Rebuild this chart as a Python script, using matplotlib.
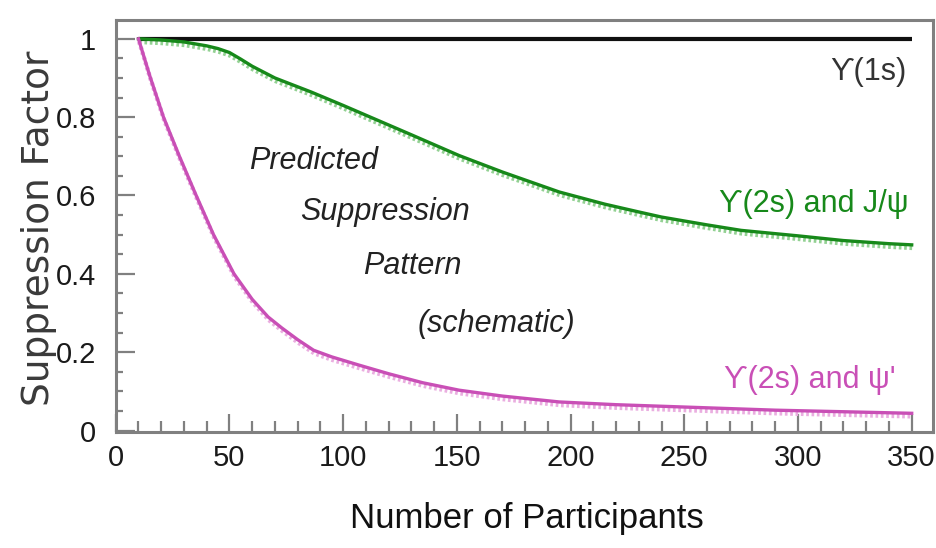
import matplotlib
matplotlib.use('Agg')
from matplotlib import pyplot as plt, transforms
from matplotlib.ticker import MultipleLocator

# participants vs. suppression factor
x_upsilon1s = [10, 350]
y_upsilon1s = [1.0, 1.0]

x_jpsi = [10, 20, 30, 40, 45, 50, 55, 60, 65, 70, 78, 86, 100, 112, 130,
          151, 170, 195, 215, 230, 240, 260, 275, 300, 320, 340, 350]
y_jpsi = [1.0, 0.997, 0.992, 0.982, 0.975, 0.965, 0.948, 0.93, 0.915, 0.900,
          0.882, 0.864, 0.830, 0.800, 0.755, 0.702, 0.66, 0.609, 0.578,
          0.558, 0.545, 0.525, 0.511, 0.497, 0.485, 0.477, 0.474]

x_psiprime = [10, 15, 21, 28, 35, 43, 52, 60, 67, 73, 80, 87, 95, 107, 120,
              135, 151, 170, 195, 220, 240, 265, 290, 320, 350]
y_psiprime = [1.0, 0.905, 0.80, 0.70, 0.605, 0.50, 0.40, 0.335, 0.29, 0.262,
              0.232, 0.205, 0.188, 0.167, 0.145, 0.122, 0.103, 0.088, 0.073,
              0.066, 0.062, 0.057, 0.052, 0.048, 0.044]

xticks = [0, 50, 100, 150, 200, 250, 300, 350]
yticks = [0, 0.2, 0.4, 0.6, 0.8, 1]
ytick_labels = ['0', '0.2', '0.4', '0.6', '0.8', '1']

GREEN = '#17891a'
GREEN_LIGHT = '#93d193'
MAGENTA = '#c94fb6'
MAGENTA_LIGHT = '#eaaee0'
GRAY = '#808080'
SANS = ['Liberation Sans', 'DejaVu Sans']

fig = plt.figure(figsize=(9.37, 5.48), dpi=100)
ax = fig.add_axes([0.1235, 0.2122, 0.8723, 0.7513])

# light dashed copy sits a couple of pixels under each coloured curve
shadow = transforms.offset_copy(ax.transData, fig=fig, x=0.5, y=-2.2, units='points')
ax.plot(x_jpsi, y_jpsi, color=GREEN_LIGHT, lw=3.2, ls=(0, (0.6, 0.6)), transform=shadow)
ax.plot(x_psiprime, y_psiprime, color=MAGENTA_LIGHT, lw=3.2, ls=(0, (0.6, 0.6)), transform=shadow)

ax.plot(x_upsilon1s, y_upsilon1s, color='#101010', lw=3.0, solid_capstyle='butt')
ax.plot(x_jpsi, y_jpsi, color=GREEN, lw=2.4)
ax.plot(x_psiprime, y_psiprime, color=MAGENTA, lw=2.4)

ax.set_xlim(0, 359.4)
ax.set_ylim(-0.003, 1.048)

ax.set_xticks(xticks)
ax.set_yticks(yticks)
ax.set_yticklabels(ytick_labels)
ax.xaxis.set_minor_locator(MultipleLocator(10))
ax.yaxis.set_minor_locator(MultipleLocator(0.05))
ax.tick_params(axis='both', which='both', direction='in', color=GRAY, width=1.6,
               labelcolor='#1a1a1a', top=False, right=False)
ax.tick_params(axis='x', which='major', length=13, pad=9)
ax.tick_params(axis='x', which='minor', length=8)
ax.tick_params(axis='y', which='major', length=14, pad=14)
ax.tick_params(axis='y', which='minor', length=5)
for lab in ax.get_xticklabels() + ax.get_yticklabels():
    lab.set_family(SANS)
    lab.set_fontsize(21)

for side in ['left', 'right', 'top', 'bottom']:
    ax.spines[side].set_color(GRAY)
    ax.spines[side].set_linewidth(2.2)

ax.set_xlabel('Number of Participants', family=SANS, fontsize=25, color='#111111')
ax.xaxis.set_label_coords(0.503, -0.17)
ax.set_ylabel('Suppression Factor', family='DejaVu Sans', fontsize=27, color='#3a3a3a')
ax.yaxis.set_label_coords(-0.072, 0.495)

ax.text(330.9, 0.916, 'ϒ(1s)', family=SANS, fontsize=22,
        color='#333333', ha='center', va='center')
ax.text(307.1, 0.578, 'ϒ(2s) and J/ψ', family=SANS, fontsize=22,
        color=GREEN, ha='center', va='center')
ax.text(305.3, 0.129, "ϒ(2s) and ψ'", family=SANS, fontsize=22,
        color=MAGENTA, ha='center', va='center')

note_lines = ['Predicted', 'Suppression', 'Pattern', '(schematic)']
note_x = [86.8, 118.4, 130.3, 167.2]
note_y = [0.688, 0.558, 0.420, 0.272]
for txt, nx, ny in zip(note_lines, note_x, note_y):
    ax.text(nx, ny, txt, family=SANS, style='italic', fontsize=22,
            color='#222222', ha='center', va='center')

fig.savefig('out.png', dpi=100)
